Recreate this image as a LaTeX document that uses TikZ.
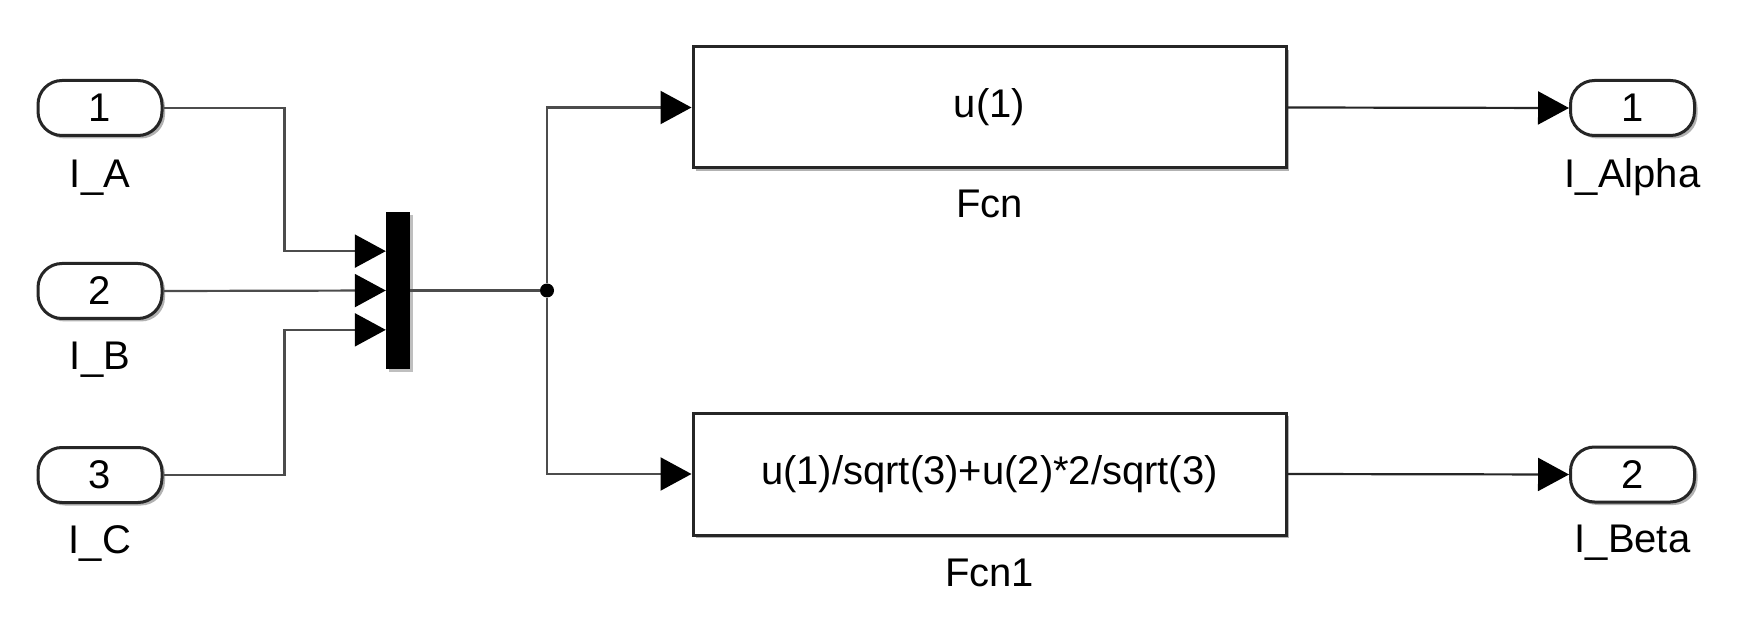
\documentclass[tikz,border=0pt]{standalone}
\usepackage{fontspec}
\setmainfont{Liberation Sans}
\usetikzlibrary{arrows.meta,shadows,calc}
\begin{document}
\begin{tikzpicture}[x=1pt,y=-1pt,
  txt/.style={font=\fontsize{40}{48}\selectfont},
  wire/.style={draw=black!70, line width=2.2pt},
  arr/.style={-{Triangle[length=31pt,width=33pt,color=black]}},
  shad/.style={drop shadow={shadow xshift=3pt, shadow yshift=-3pt, opacity=0.3, fill=black}},
  port/.style={draw=black!85, line width=3pt, rounded corners=24pt, minimum width=124pt, minimum height=55pt, fill=white, inner sep=0pt, shad, txt},
  fcnbox/.style={draw=black!85, line width=3pt, minimum width=593pt, fill=white, inner sep=0pt, shad, txt},
  lbl/.style={anchor=base, inner sep=0pt, txt},
  muxbar/.style={fill=black, minimum width=24pt, minimum height=157pt, inner sep=0pt, drop shadow={shadow xshift=3pt, shadow yshift=-3pt, opacity=0.25, fill=black}},
  dot/.style={circle, fill=black, minimum size=14pt, inner sep=0pt}
]
\useasboundingbox (0,0) rectangle (1741,620);

% inports
\node[port] (in1) at (100,108) {1};
\node[port] (in2) at (100,291) {2};
\node[port] (in3) at (100,475) {3};
\node[lbl] (lin1) at (100,188) {I\_A};
\node[lbl] (lin2) at (100,370) {I\_B};
\node[lbl] (lin3) at (100,553) {I\_C};

% mux
\node[muxbar] (mux) at (398,290.5) {};
\coordinate (m1) at ($(mux.north west)!0.25!(mux.south west)$);
\coordinate (m2) at ($(mux.north west)!0.5!(mux.south west)$);
\coordinate (m3) at ($(mux.north west)!0.75!(mux.south west)$);

% fcn blocks
\node[fcnbox, minimum height=121pt] (fcn) at (989.5,107.5) {u(1)};
\node[fcnbox, minimum height=122pt] (fcn1) at (989.5,474) {u(1)/sqrt(3)+u(2)*2/sqrt(3)};
\node[lbl] (lfcn) at (989.5,218) {Fcn};
\node[lbl] (lfcn1) at (989.5,586) {Fcn1};

% outports
\node[port] (out1) at (1632.5,108) {1};
\node[port] (out2) at (1632.5,474.5) {2};
\node[lbl] (lout1) at (1632.5,188) {I\_Alpha};
\node[lbl] (lout2) at (1632.5,552) {I\_Beta};

% junction
\node[dot] (j) at (547,290.5) {};

% wires
\draw[wire, arr] (in1.east) -- ++(121,0) |- (m1);
\draw[wire, arr] (in2.east) -- (m2);
\draw[wire, arr] (in3.east) -- ++(121,0) |- (m3);
\draw[wire] (mux.east) -- (j);
\draw[wire, arr] (j) |- (fcn.west);
\draw[wire, arr] (j) |- (fcn1.west);
\draw[wire, draw=black!85, arr] (fcn.east) -- (out1.west);
\draw[wire, draw=black!85, arr] (fcn1.east) -- (out2.west);
\end{tikzpicture}
\end{document}
